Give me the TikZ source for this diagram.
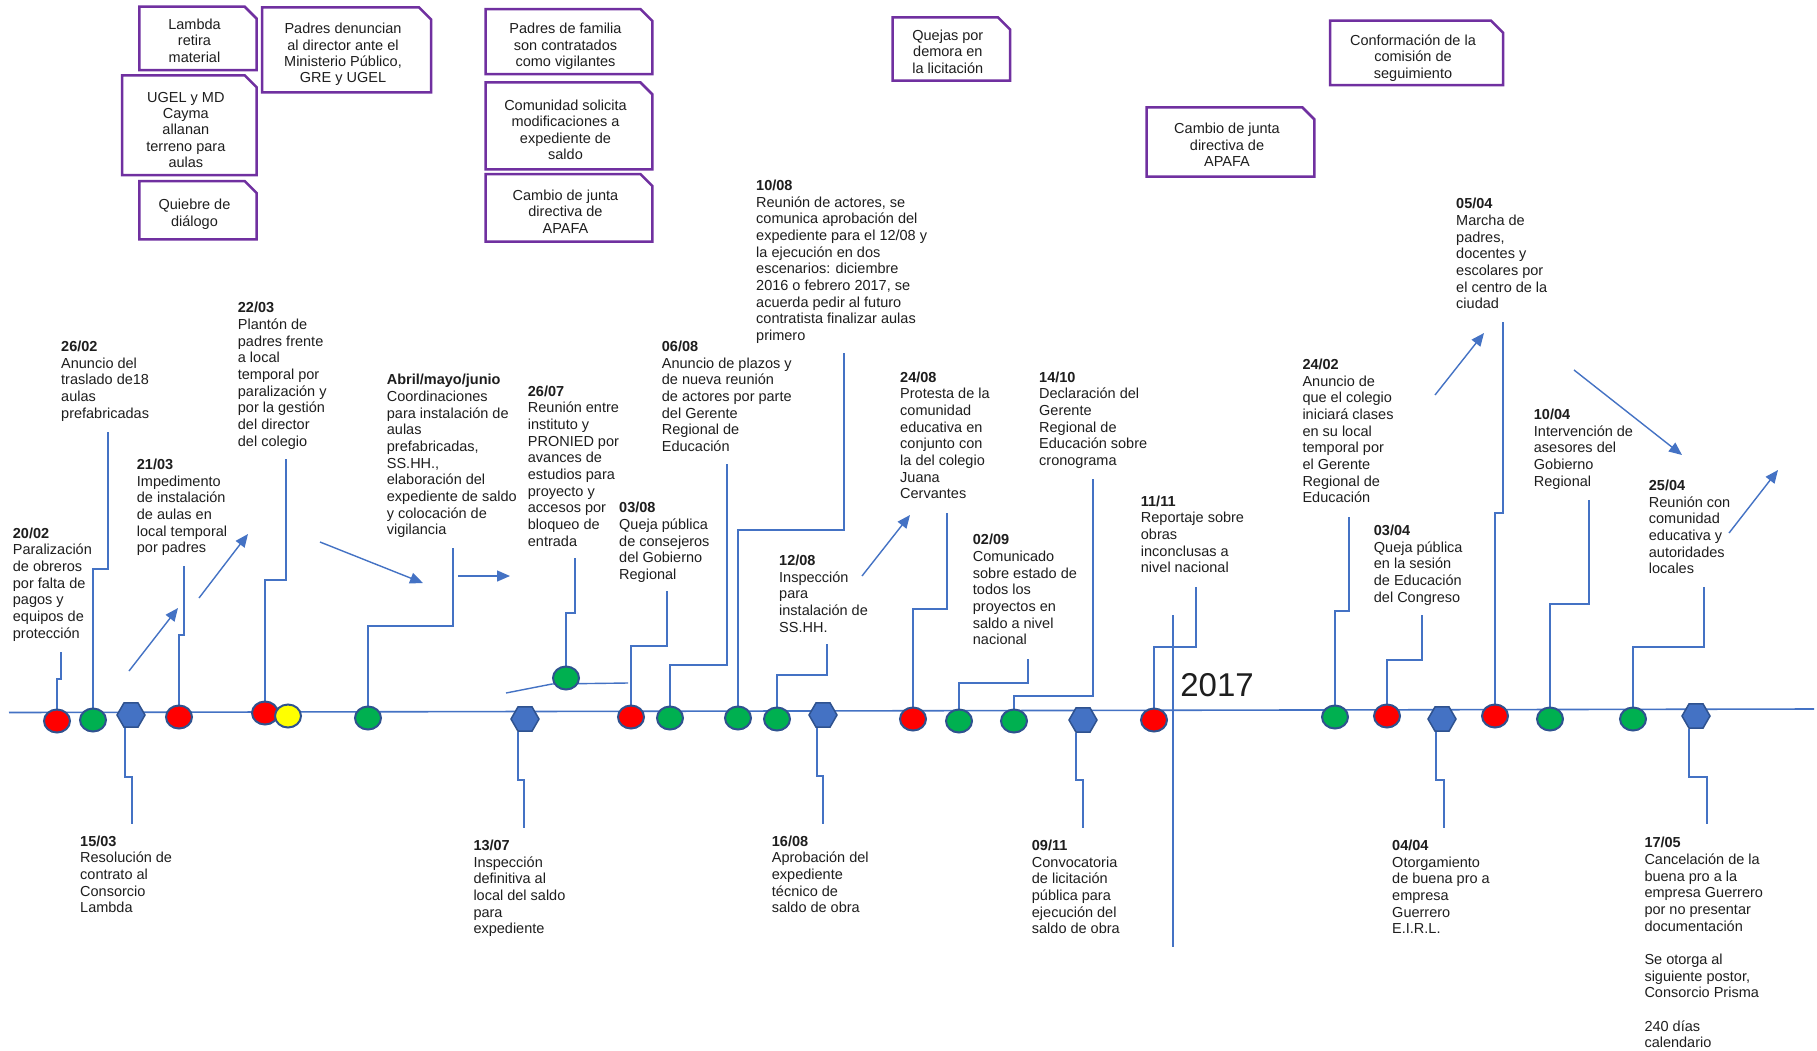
\documentclass[tikz,border=0pt]{standalone}
\usepackage{fontspec}
\setmainfont{Liberation Sans}
\usetikzlibrary{arrows.meta,shapes.geometric}

\definecolor{tlblue}{HTML}{4472C4}
\definecolor{mkedge}{HTML}{2F528F}
\definecolor{mkred}{HTML}{FF0000}
\definecolor{mkgreen}{HTML}{00B050}
\definecolor{mkyellow}{HTML}{FFFF00}
\definecolor{snipcol}{HTML}{7030A0}
\definecolor{txt}{HTML}{1E1E1E}

\pgfdeclarelayer{paper}
\pgfdeclarelayer{lines}
\pgfsetlayers{paper,lines,main}

\newcommand\evfont{\fontsize{14.5}{16.67}\selectfont}
\newcommand\bxfont{\fontsize{14.5}{16.3}\selectfont}
\newcommand\yrfont{\fontsize{33}{40}\selectfont}

% event label: name, left x, centre y of the date line, date, body
\newcommand\tlevent[5]{%
  \node[evtext] (#1) at (#2,#3-6.5) {\strut\textbf{#4}\\#5};}

% note box with a clipped upper right corner:
% name, x1, y1, x2, y2, centre y of first line, text
\newcommand\snipbox[7]{%
  \draw[snip] (#2,#3) -- (#4-12,#3) -- (#4,#3+12) -- (#4,#5) -- (#2,#5) -- cycle;
  \node[bxtext] (#1) at ({(#2+#4)/2-3.5},#6-6.2) {\strut#7};}

\tikzset{
  evtext/.style={anchor=north west, inner sep=0pt, align=left, font=\evfont, text=txt},
  bxtext/.style={anchor=north, inner sep=0pt, align=center, font=\bxfont, text=txt},
  snip/.style={draw=snipcol, line width=2.5pt, fill=white, line join=miter},
  axis/.style={draw=tlblue, line width=1.6pt},
  conn/.style={draw=tlblue, line width=1.4pt},
  flow/.style={draw=tlblue, line width=1.4pt, -{Triangle[length=13pt,width=11pt]}},
  dot/.style={ellipse, draw=mkedge, line width=2pt, minimum width=26pt, minimum height=23pt, inner sep=0pt},
  rdot/.style={dot, fill=mkred},
  gdot/.style={dot, fill=mkgreen},
  ydot/.style={dot, fill=mkyellow},
  hexm/.style={regular polygon, regular polygon sides=6, draw=mkedge, fill=tlblue,
               line width=1.5pt, minimum size=28pt, inner sep=0pt},
}

\begin{document}
\begin{tikzpicture}[x=1pt,y=-1pt]
\begin{pgfonlayer}{paper}
\fill[white] (0,0) rectangle (1817,1050);
\end{pgfonlayer}
\useasboundingbox (0,0) rectangle (1817,1050);

% ---------- notes at the top ----------
\snipbox{b1}{139.3}{6.7}{256.7}{70}{24}{Lambda\\retira\\material}
\snipbox{b2}{122}{75.3}{256.7}{175}{96.7}{UGEL y MD\\Cayma\\allanan\\terreno para\\aulas}
\snipbox{b3}{139.3}{181}{256.7}{239.3}{204.3}{Quiebre de\\diálogo}
\snipbox{b4}{262}{7.3}{431}{92.3}{28.3}{Padres denuncian\\al director ante el\\Ministerio Público,\\GRE y UGEL}
\snipbox{b5}{485.7}{9}{652.3}{74}{28.3}{Padres de familia\\son contratados\\como vigilantes}
\snipbox{b6}{485.7}{82.3}{652.3}{169.3}{105}{Comunidad solicita\\modificaciones a\\expediente de\\saldo}
\snipbox{b7}{485.7}{174}{652.3}{241.7}{195}{Cambio de junta\\directiva de\\APAFA}
\snipbox{b8}{892.7}{17.3}{1010}{80.7}{35}{Quejas por\\demora en\\la licitación}
\snipbox{b9}{1146.7}{107.3}{1314.3}{176.7}{128.3}{Cambio de junta\\directiva de\\APAFA}
\snipbox{b10}{1330}{20.7}{1503}{85}{40}{Conformación de la\\comisión de\\seguimiento}

% ---------- markers on the time axis ----------
\path
  node[rdot] (m1)  at (57,721) {}
  node[gdot] (m2)  at (93,720) {}
  node[hexm] (h1)  at (131,715) {}
  node[rdot] (m3)  at (179,717) {}
  node[rdot] (m4)  at (265,713) {}
  node[ydot] (m5)  at (288,716) {}
  node[gdot] (m6)  at (368,718) {}
  node[hexm] (h2)  at (525,719) {}
  node[gdot] (m7)  at (566,678) {}
  node[rdot] (m8)  at (631,717) {}
  node[gdot] (m9)  at (670,718) {}
  node[gdot] (m10) at (738,718) {}
  node[gdot] (m11) at (777,719) {}
  node[hexm] (h3)  at (823,715) {}
  node[rdot] (m12) at (913,719) {}
  node[gdot] (m13) at (959,721) {}
  node[gdot] (m14) at (1014,721) {}
  node[hexm] (h4)  at (1083,720) {}
  node[rdot] (m15) at (1154,720) {}
  node[gdot] (m16) at (1335,717) {}
  node[rdot] (m17) at (1387,716) {}
  node[hexm] (h5)  at (1442,719) {}
  node[rdot] (m18) at (1495,716) {}
  node[gdot] (m19) at (1550,719) {}
  node[gdot] (m20) at (1633,719) {}
  node[hexm] (h6)  at (1696,716) {};

\begin{pgfonlayer}{lines}
% time axis and year divider
\coordinate (tlA) at (9,712.5);
\coordinate (tlB) at (1814,709);
\draw[axis] (tlA) -- (tlB);
\coordinate (yrA) at (1173,615);
\coordinate (yrB) at (1173,947);
\draw[conn] (yrA) -- (yrB);

% connectors from the labels above
\draw[conn] (61,652)   -- (61,679)   -| (m1.north);
\draw[conn] (108,432)  -- (108,569)  -| (m2.north);
\draw[conn] (184,566)  -- (184,635)  -| (m3.north);
\draw[conn] (286,459)  -- (286,580)  -| (m4.north);
\draw[conn] (453,548)  -- (453,626)  -| (m6.north);
\draw[conn] (575,558)  -- (575,613)  -| (m7.north);
\draw[conn] (667,591)  -- (667,646)  -| (m8.north);
\draw[conn] (727,464)  -- (727,665)  -| (m9.north);
\draw[conn] (844,353)  -- (844,530)  -| (m10.north);
\draw[conn] (827,644)  -- (827,675)  -| (m11.north);
\draw[conn] (947,513)  -- (947,609)  -| (m12.north);
\draw[conn] (1028,659) -- (1028,683) -| (m13.north);
\draw[conn] (1093,479) -- (1093,696) -| (m14.north);
\draw[conn] (1196,587) -- (1196,647) -| (m15.north);
\draw[conn] (1349,517) -- (1349,611) -| (m16.north);
\draw[conn] (1422,615) -- (1422,660) -| (m17.north);
\draw[conn] (1503,322) -- (1503,513) -| (m18.north);
\draw[conn] (1589,500) -- (1589,604) -| (m19.north);
\draw[conn] (1704,587) -- (1704,647) -| (m20.north);

% branch through the raised marker
\coordinate (brA) at (506,693);
\coordinate (brB) at (552,684);
\coordinate (brC) at (628,683);
\draw[conn] (brA) -- (brB) -- (brC);

% connectors to the labels below
\draw[conn] ([xshift=-6pt]h1.south) |- (132,777) -- (132,824);
\draw[conn] ([xshift=-7pt]h2.south) |- (524,780) -- (524,828);
\draw[conn] ([xshift=-6pt]h3.south) |- (823,776) -- (823,824);
\draw[conn] ([xshift=-7pt]h4.south) |- (1083,780) -- (1083,828);
\draw[conn] ([xshift=-6pt]h5.south) |- (1444,780) -- (1444,828);
\draw[conn] ([xshift=-7pt]h6.south) |- (1707,777) -- (1707,824);
\end{pgfonlayer}

\node[font=\yrfont, text=txt, inner sep=0pt] (yr) at (1217,685) {2017};

% ---------- sequence arrows ----------
\coordinate (a1s) at (129,671);  \coordinate (a1e) at (178,608);
\coordinate (a2s) at (199,598);  \coordinate (a2e) at (248,534);
\coordinate (a3s) at (320,542);  \coordinate (a3e) at (423,583);
\coordinate (a4s) at (458,576);  \coordinate (a4e) at (510,576);
\coordinate (a5s) at (862,576);  \coordinate (a5e) at (910,515);
\coordinate (a6s) at (1435,395); \coordinate (a6e) at (1484,333);
\coordinate (a7s) at (1574,370); \coordinate (a7e) at (1682,455);
\coordinate (a8s) at (1729,533); \coordinate (a8e) at (1778,470);
\foreach \k in {1,...,8} {\draw[flow] (a\k s) -- (a\k e);}

% ---------- labels above the axis ----------
\tlevent{e2002}{12.7}{532.7}{20/02}{Paralización\\de obreros\\por falta de\\pagos y\\equipos de\\protección}
\tlevent{e2602}{61}{346}{26/02}{Anuncio del\\traslado de18\\aulas\\prefabricadas}
\tlevent{e2103}{136.7}{464}{21/03}{Impedimento\\de instalación\\de aulas en\\local temporal\\por padres}
\tlevent{e2203}{237.7}{307.3}{22/03}{Plantón de\\padres frente\\a local\\temporal por\\paralización y\\por la gestión\\del director\\del colegio}
\tlevent{eamj}{386.7}{379.3}{Abril/mayo/junio}{Coordinaciones\\para instalación de\\aulas\\prefabricadas,\\SS.HH.,\\elaboración del\\expediente de saldo\\y colocación de\\vigilancia}
\tlevent{e2607}{527.7}{390.7}{26/07}{Reunión entre\\instituto y\\PRONIED por\\avances de\\estudios para\\proyecto y\\accesos por\\bloqueo de\\entrada}
\tlevent{e0308}{619}{507.3}{03/08}{Queja pública\\de consejeros\\del Gobierno\\Regional}
\tlevent{e0608}{661.7}{346}{06/08}{Anuncio de plazos y\\de nueva reunión\\de actores por parte\\del Gerente\\Regional de\\Educación}
\tlevent{e1008}{756}{185}{10/08}{Reunión de actores, se\\comunica aprobación del\\expediente para el 12/08 y\\la ejecución en dos\\escenarios: diciembre\\2016 o febrero 2017, se\\acuerda pedir al futuro\\contratista finalizar aulas\\primero}
\tlevent{e1208}{779}{560}{12/08}{Inspección\\para\\instalación de\\SS.HH.}
\tlevent{e2408}{900}{376.7}{24/08}{Protesta de la\\comunidad\\educativa en\\conjunto con\\la del colegio\\Juana\\Cervantes}
\tlevent{e0209}{972.7}{539.3}{02/09}{Comunicado\\sobre estado de\\todos los\\proyectos en\\saldo a nivel\\nacional}
\tlevent{e1410}{1039}{376.7}{14/10}{Declaración del\\Gerente\\Regional de\\Educación sobre\\cronograma}
\tlevent{e1111}{1140.7}{500.7}{11/11}{Reportaje sobre\\obras\\inconclusas a\\nivel nacional}
\tlevent{e2402}{1302.3}{364}{24/02}{Anuncio de\\que el colegio\\iniciará clases\\en su local\\temporal por\\el Gerente\\Regional de\\Educación}
\tlevent{e0304}{1373.7}{530}{03/04}{Queja pública\\en la sesión\\de Educación\\del Congreso}
\tlevent{e0504}{1456}{203.3}{05/04}{Marcha de\\padres,\\docentes y\\escolares por\\el centro de la\\ciudad}
\tlevent{e1004}{1533.7}{414}{10/04}{Intervención de\\asesores del\\Gobierno\\Regional}
\tlevent{e2504}{1648.7}{485}{25/04}{Reunión con\\comunidad\\educativa y\\autoridades\\locales}

% ---------- labels below the axis ----------
\tlevent{e1503}{80}{840.7}{15/03}{Resolución de\\contrato al\\Consorcio\\Lambda}
\tlevent{e1307}{473.3}{845}{13/07}{Inspección\\definitiva al\\local del saldo\\para\\expediente}
\tlevent{e1608}{771.7}{840.7}{16/08}{Aprobación del\\expediente\\técnico de\\saldo de obra}
\tlevent{e0911}{1031.7}{845}{09/11}{Convocatoria\\de licitación\\pública para\\ejecución del\\saldo de obra}
\tlevent{e0404}{1392}{845}{04/04}{Otorgamiento\\de buena pro a\\empresa\\Guerrero\\E.I.R.L.}
\tlevent{e1705}{1644.3}{842.3}{17/05}{Cancelación de la\\buena pro a la\\empresa Guerrero\\por no presentar\\documentación\\[16.67pt]Se otorga al\\siguiente postor,\\Consorcio Prisma\\[16.67pt]240 días\\calendario}
\end{tikzpicture}
\end{document}
